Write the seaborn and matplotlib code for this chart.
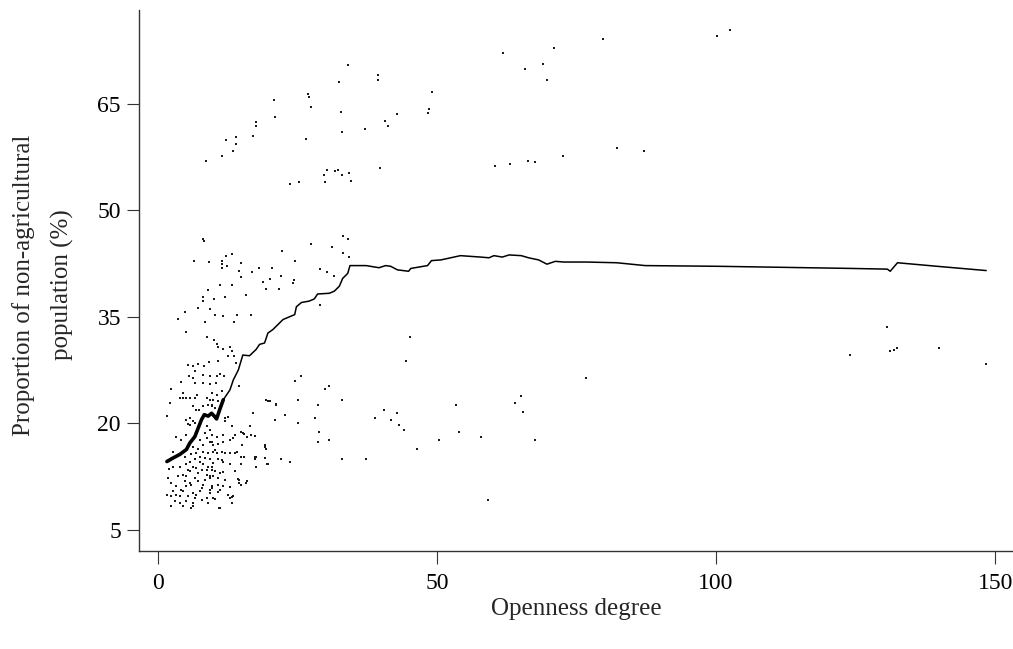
import numpy as np
import matplotlib
matplotlib.use("Agg")
import matplotlib.pyplot as plt
import seaborn as sns

# scatter points (openness degree, share of non-agricultural population %)
pts_upper = [
    (8.6, 57.0), (11.4, 57.7), (12.1, 59.9), (13.9, 60.3), (14.0, 59.3), (13.5, 58.3),
    (17.0, 60.5), (17.6, 62.4), (17.6, 61.8), (20.7, 65.5), (21.0, 63.1), (26.6, 60.1),
    (26.8, 66.4), (27.1, 66.0), (27.4, 64.6), (32.4, 68.1), (32.8, 63.9), (32.9, 61.0),
    (34.0, 70.4), (37.1, 61.5), (39.4, 69.1), (39.4, 68.4), (40.6, 62.5), (41.3, 61.9),
    (42.9, 63.5), (48.3, 63.7), (48.6, 64.2), (49.1, 66.7), (61.9, 72.2), (60.4, 56.2),
    (23.6, 53.7), (25.2, 54.0), (29.9, 54.0), (29.8, 55.0), (30.2, 55.7), (31.8, 55.5),
    (32.3, 55.6), (33.0, 55.0), (34.3, 55.3), (34.5, 54.1), (39.7, 56.0),
    (65.8, 69.9), (68.9, 70.6), (69.7, 68.4), (70.9, 72.9), (79.8, 74.1), (100.1, 74.6),
    (102.5, 75.4), (63.0, 56.5), (66.3, 57.0), (67.5, 56.8), (72.5, 57.7), (82.3, 58.8),
    (87.1, 58.4),
]

pts_mid = [
    (8.1, 45.9), (8.2, 45.6), (6.5, 42.8), (9.2, 42.7), (11.4, 42.8), (11.5, 42.4),
    (12.1, 43.5), (12.4, 42.2), (13.3, 43.8), (11.4, 41.9), (14.8, 42.6), (14.6, 41.5),
    (14.9, 40.6), (16.8, 41.3), (18.1, 41.9), (20.4, 41.8), (22.2, 44.2), (24.6, 42.9),
    (22.1, 40.7), (20.0, 40.3), (18.8, 39.9), (19.3, 38.9), (21.6, 38.9), (24.3, 40.2),
    (24.2, 39.7), (27.5, 45.3), (31.2, 44.8), (33.1, 46.3), (34.1, 45.9), (33.2, 44.0),
    (34.3, 43.4), (29.1, 41.7), (30.2, 41.3), (31.6, 40.8), (29.1, 36.7), (8.9, 38.7),
    (8.1, 37.8), (8.1, 37.2), (10.1, 37.5), (12.0, 37.8), (11.2, 39.4), (13.3, 39.4),
    (15.8, 38.1), (7.2, 36.2), (9.3, 36.1), (4.8, 35.7), (3.6, 34.7), (8.4, 34.2),
    (10.2, 35.3), (11.7, 35.1), (14.2, 35.3), (16.6, 35.3), (13.6, 34.2), (5.0, 32.8),
    (8.7, 32.2), (10.0, 31.7), (10.5, 31.2), (11.7, 30.5), (12.9, 30.8), (10.8, 30.8),
    (13.2, 30.1), (12.6, 29.4), (13.6, 29.4), (13.9, 28.5), (5.4, 28.2), (6.3, 28.0),
    (7.2, 28.4), (8.2, 28.0), (9.2, 28.6), (10.8, 28.8), (6.7, 27.4), (5.6, 26.6),
    (6.2, 26.4), (8.1, 26.8), (9.3, 26.7), (10.6, 26.6), (11.2, 27.0), (11.8, 26.7),
    (4.1, 25.8), (6.7, 25.7), (8.1, 25.6), (9.3, 25.5), (10.4, 25.6), (2.4, 24.8),
    (25.7, 26.7), (24.6, 25.9), (30.7, 25.3), (30.0, 24.8), (14.6, 25.2),
]

pts_right = [
    (45.2, 32.1), (44.4, 28.8), (76.7, 26.4), (130.7, 33.5), (131.2, 30.1), (131.9, 30.3),
    (132.5, 30.6), (124.0, 29.6), (140.0, 30.6), (148.4, 28.3),
]

pts_low = [
    (19.7, 23.1), (21.2, 22.7), (25.1, 23.2), (22.7, 21.2), (25.1, 20.0), (21.0, 20.4),
    (17.0, 21.5), (19.1, 17.0), (19.3, 16.3), (22.1, 14.9), (23.6, 14.5), (19.5, 14.2),
    (17.5, 15.2), (17.5, 13.8), (15.8, 11.6), (14.6, 12.0), (14.9, 11.3), (16.7, 18.4),
    (15.2, 18.6), (12.9, 9.5), (11.1, 8.1), (6.3, 8.4),
    (28.6, 22.6), (28.2, 20.8), (28.9, 18.8), (28.6, 17.4), (30.7, 17.7), (33.0, 14.9),
    (37.3, 15.0), (33.0, 23.3), (38.8, 20.8), (40.5, 21.9), (41.8, 20.5), (42.9, 21.5),
    (43.2, 19.8), (44.1, 19.1), (46.4, 16.3), (50.4, 17.7), (53.4, 22.6), (53.9, 18.8),
    (57.9, 18.0), (63.9, 22.9), (65.0, 23.9), (65.4, 21.6), (67.5, 17.7), (59.1, 9.2),
]

pts_dense = [
    (4.5, 24.3), (3.9, 23.5), (4.5, 23.5), (5.1, 23.5), (5.7, 23.5), (6.6, 23.5),
    (8.7, 23.6), (9.3, 23.3), (7.0, 24.0), (2.1, 22.8), (6.2, 22.4), (6.9, 21.9),
    (7.4, 21.8), (8.1, 22.4), (9.0, 22.6), (9.6, 22.5), (1.6, 21.0), (5.1, 20.5),
    (5.7, 20.7), (6.3, 20.3), (5.4, 19.9),
    (9.6, 24.3), (10.5, 24.0), (11.4, 24.5), (9.9, 23.3), (10.8, 23.1), (9.6, 22.4),
    (10.2, 22.1), (19.4, 23.3), (20.0, 23.1), (21.2, 22.6), (12.0, 20.7), (12.6, 20.9),
    (5.7, 19.8), (6.6, 20.0), (8.7, 19.55), (9.3, 19.1), (5.1, 18.4), (4.2, 17.7),
    (3.3, 18.1), (8.7, 17.9), (9.6, 17.4), (8.1, 17.0), (7.2, 16.3), (9.0, 15.8),
    (9.9, 16.0), (2.7, 16.0), (4.8, 15.3), (5.7, 14.6), (7.5, 15.3), (8.4, 15.1),
    (9.3, 14.9), (2.7, 13.9), (5.1, 14.2), (6.3, 13.9), (8.1, 14.2), (9.0, 13.9),
    (9.6, 13.45), (5.7, 13.2), (7.2, 13.0), (8.7, 12.7), (5.1, 12.5), (6.6, 12.3),
    (9.3, 12.3), (1.85, 12.3), (3.6, 12.5), (4.8, 11.8), (5.7, 11.6), (5.1, 11.1),
    (6.0, 11.3), (8.1, 11.3), (9.6, 11.1), (3.3, 11.1), (4.2, 10.6), (2.7, 10.4),
    (4.5, 10.4), (6.3, 10.2), (7.5, 10.4), (9.3, 10.6), (1.55, 9.9), (2.4, 9.7),
    (3.3, 9.9), (5.4, 9.7), (6.6, 9.5), (8.7, 9.5), (9.9, 9.5), (3.0, 9.0),
    (3.9, 8.75), (5.1, 9.0), (6.3, 8.75), (7.8, 9.2), (2.4, 8.3), (4.5, 8.3),
    (6.0, 8.05), (9.0, 8.75),
    (5.4, 13.45), (6.9, 13.7), (7.8, 13.45), (7.2, 11.8), (8.4, 12.0), (4.5, 12.7),
    (3.9, 13.9), (8.7, 13.45), (7.5, 14.6), (6.6, 14.9), (9.9, 14.4), (6.0, 15.6),
    (6.9, 15.8), (8.1, 16.0), (6.3, 16.7), (7.5, 17.7), (8.4, 18.6), (9.6, 18.4),
    (7.8, 10.9), (6.9, 9.9), (3.9, 9.7), (2.4, 11.6), (2.0, 13.5),
    (12.0, 20.3), (13.2, 19.55), (16.4, 19.55), (11.7, 18.4), (13.8, 18.4), (14.9, 18.8),
    (15.5, 18.5), (15.9, 18.1), (17.3, 18.2), (10.5, 18.1), (12.9, 17.7), (13.5, 17.9),
    (9.3, 17.4), (11.7, 17.4), (9.9, 17.0), (10.8, 17.1), (15.1, 17.0), (19.1, 16.7),
    (10.2, 16.2), (10.5, 15.8), (11.4, 16.0), (12.0, 15.8), (12.9, 15.8), (13.8, 15.8),
    (14.1, 15.9), (14.9, 15.3), (15.5, 15.3), (17.3, 15.3), (10.8, 14.95), (11.4, 14.8),
    (11.7, 14.5), (12.9, 14.2), (14.9, 14.2), (17.3, 14.9), (19.1, 15.1), (19.7, 14.2),
    (9.6, 13.9), (10.2, 13.2), (11.1, 13.0), (11.7, 13.1), (13.8, 13.2), (9.3, 12.5),
    (9.9, 12.5), (10.8, 12.3), (12.0, 12.0), (14.3, 12.1), (14.6, 11.6), (15.9, 11.8),
    (10.8, 11.3), (11.7, 11.1), (12.9, 11.0), (9.6, 10.9), (11.1, 10.6), (10.8, 10.3),
    (9.3, 10.2), (12.6, 9.9), (13.2, 9.6), (13.5, 9.8), (9.9, 9.5), (10.2, 9.3),
    (11.0, 8.05), (13.2, 8.75),
]

# smoothed curve through the cloud
curve_x = [1.6, 2.7, 3.9, 5.1, 5.7, 6.6, 7.2, 7.8, 8.3, 9.0, 9.6, 10.2, 10.5, 11.1, 11.7,
           12.9, 13.5, 14.4, 15.2, 16.4, 17.6, 18.2, 19.1, 19.7, 20.6, 21.5, 22.4, 23.6,
           24.5, 24.8, 25.7, 27.1, 28.0, 28.6, 30.7, 31.6, 32.5, 33.1, 34.0, 34.4, 37.3,
           39.6, 40.8, 41.7, 42.9, 44.9, 45.3, 48.3, 49.0, 50.7, 54.2, 57.8, 59.3, 60.2,
           61.7, 62.9, 65.1, 66.4, 68.2, 69.7, 71.2, 72.7, 76.8, 82.2, 87.3, 100.4, 124.2,
           130.7, 131.2, 132.5, 139.6, 148.4]
curve_y = [14.6, 15.1, 15.6, 16.3, 17.2, 18.1, 19.3, 20.5, 21.2, 21.0, 21.4, 20.9, 20.6,
           22.0, 23.3, 24.7, 26.1, 27.5, 29.6, 29.5, 30.4, 31.1, 31.3, 32.7, 33.2, 33.9,
           34.6, 35.0, 35.3, 36.4, 37.0, 37.2, 37.5, 38.2, 38.3, 38.6, 39.3, 40.4, 41.1,
           42.2, 42.2, 41.9, 42.2, 42.1, 41.6, 41.4, 41.8, 42.2, 42.9, 43.0, 43.6, 43.4,
           43.3, 43.6, 43.4, 43.7, 43.6, 43.3, 43.0, 42.4, 42.8, 42.7, 42.7, 42.6, 42.2,
           42.1, 41.8, 41.7, 41.4, 42.6, 42.1, 41.5]

x_ticks = [0, 50, 100, 150]
y_ticks = [5, 20, 35, 50, 65]

pts = np.array(pts_upper + pts_mid + pts_right + pts_low + pts_dense)
cx = np.array(curve_x)
cy = np.array(curve_y)

sns.set_style("ticks")
plt.rcParams['font.family'] = ['Liberation Serif', 'DejaVu Serif']

fig = plt.figure(figsize=(10.13, 6.49), dpi=100)
ax = fig.add_axes([139 / 1013, 98 / 649, 874 / 1013, 541 / 649])

sns.scatterplot(x=pts[:, 0], y=pts[:, 1], marker='s', s=2.5, color='#1a1a1a',
                linewidth=0, ax=ax)
# curve: heavier where it runs through the dense cloud
sns.lineplot(x=cx, y=cy, sort=False, estimator=None, color='black', lw=1.1, ax=ax)
dense = cx <= 12.0
sns.lineplot(x=cx[dense], y=cy[dense], sort=False, estimator=None, color='black',
             lw=2.6, ax=ax)

ax.set_xlim(-3.4, 153.2)
ax.set_ylim(2.0, 78.2)
ax.set_xticks(x_ticks)
ax.set_yticks(y_ticks)
ax.tick_params(direction='out', length=9, width=0.8, colors='#333333',
               labelcolor='black', labelsize=17, pad=7)
ax.tick_params(axis='y', pad=4)
for s in ['top', 'right']:
    ax.spines[s].set_visible(False)
for s in ['left', 'bottom']:
    ax.spines[s].set_linewidth(1.0)
    ax.spines[s].set_color('#333333')

ax.set_xlabel("Openness degree", fontsize=18)
ax.xaxis.set_label_coords(0.5, -0.086)
ax.set_ylabel("")
fig.text(43 / 1013, 1 - 285 / 649, "Proportion of non-agricultural\npopulation (%)",
         rotation=90, ha='center', va='center', fontsize=18, linespacing=1.85,
         multialignment='center')

fig.savefig("out.png", dpi=100)
